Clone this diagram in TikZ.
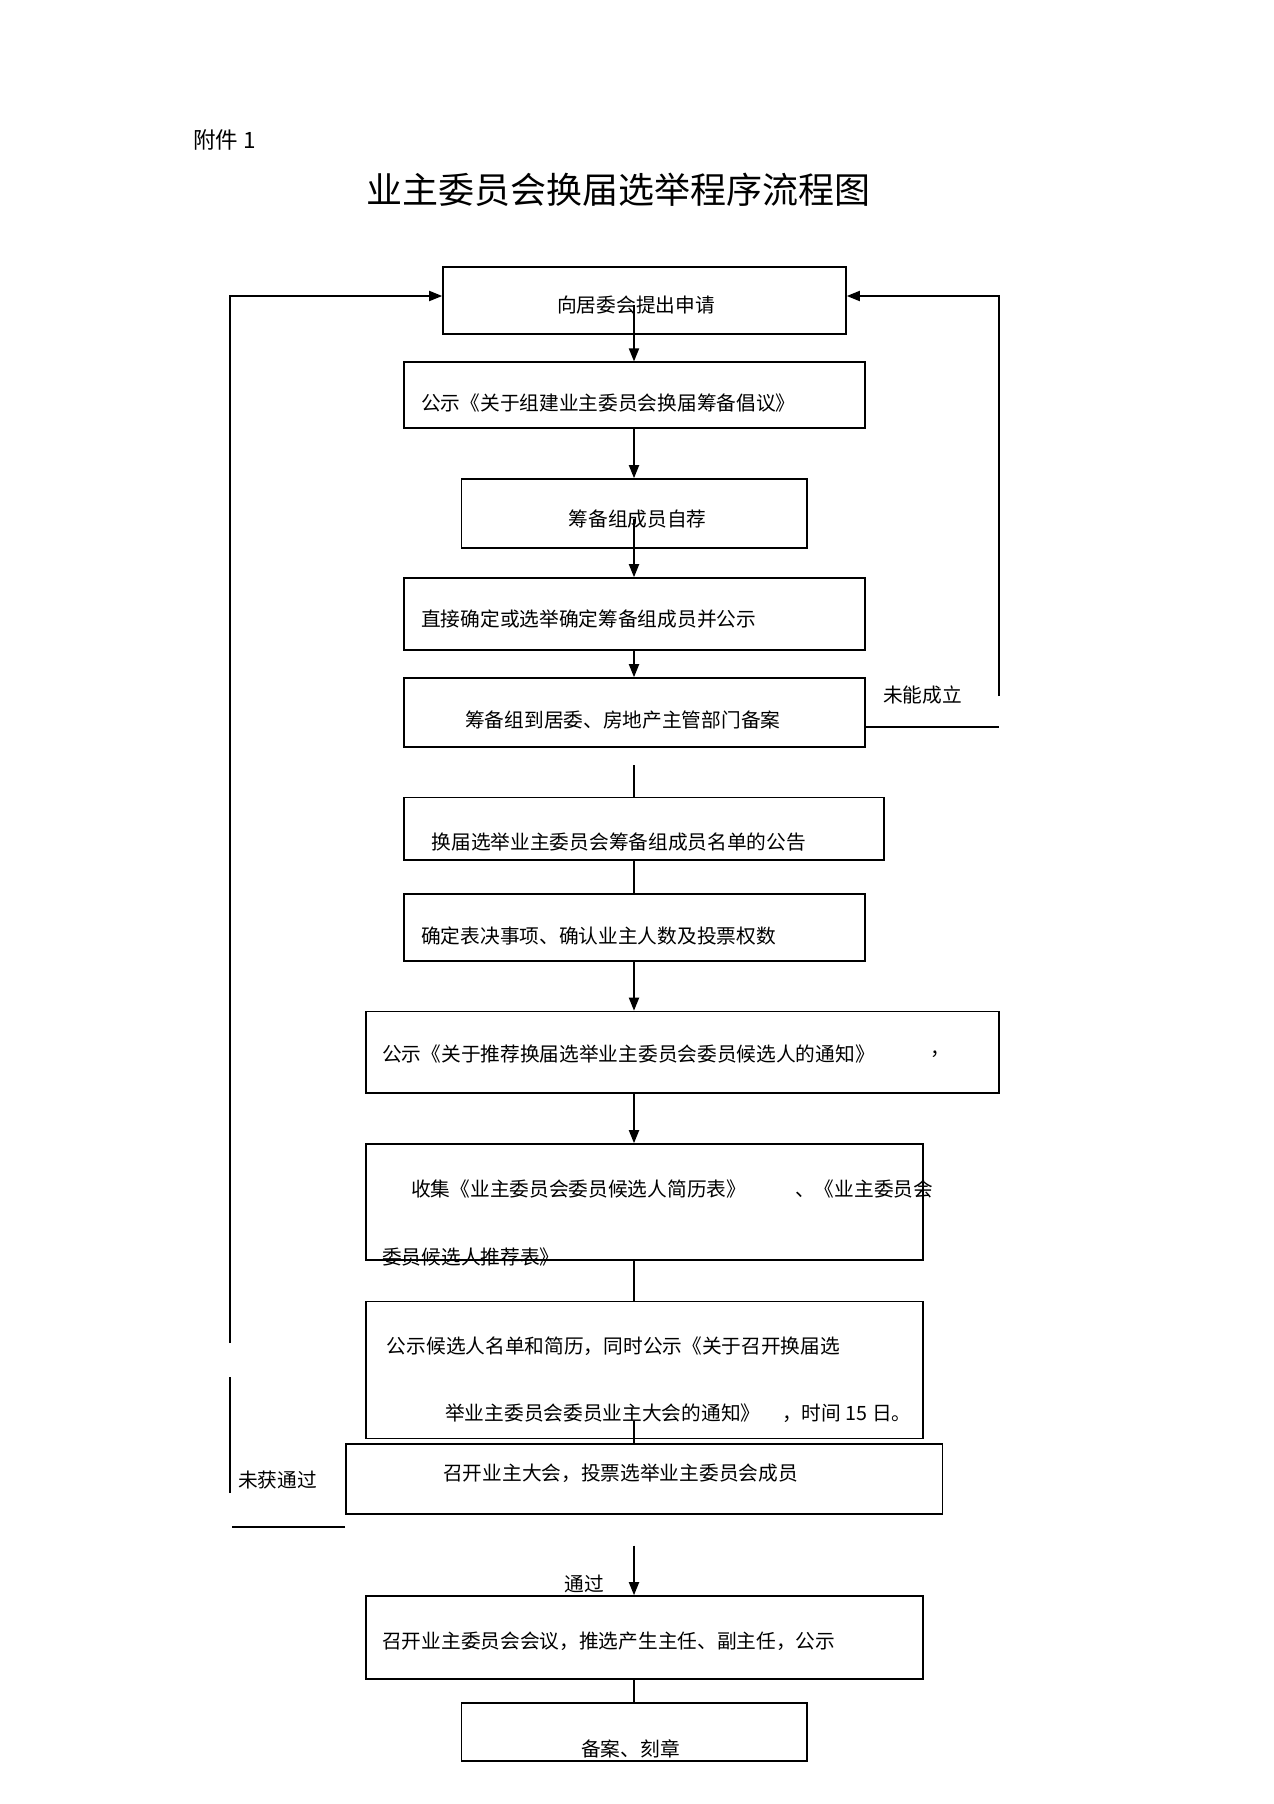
\documentclass[tikz,border=0pt]{standalone}
\usepackage{fontspec}
\setmainfont{Noto Sans CJK SC}
\usetikzlibrary{arrows.meta}
\tikzset{
  box/.style={draw, line width=1.6pt, inner sep=0pt, rectangle},
  txt/.style={inner sep=0pt, anchor=west, font=\fontsize{19.7}{19.7}\selectfont},
  arr/.style={line width=1.8pt, -{Triangle[length=13pt,width=10pt]}},
  ln/.style={line width=1.8pt},
  loop/.style={line width=1.6pt}
}
\begin{document}
\begin{tikzpicture}[x=1pt,y=-1pt]
\useasboundingbox (0,0) rectangle (1274,1804);
% header
\node[txt, font=\fontsize{22.5}{22.5}\selectfont] (att) at (193,140) {附件 1};
\node[inner sep=0pt, font=\fontsize{36}{36}\selectfont] (title) at (618,190) {业主委员会换届选举程序流程图};
% boxes
\node[box, minimum width=403pt, minimum height=67pt] (b1) at (644.5,300.5) {};
\node[box, minimum width=461pt, minimum height=65.5pt] (b2) at (634.5,395) {};
\node[box, minimum width=345.5pt, minimum height=69pt] (b3) at (634.25,513.5) {};
\node[box, minimum width=461pt, minimum height=72pt] (b4) at (634.5,614) {};
\node[box, minimum width=461pt, minimum height=69pt] (b5) at (634.5,712.5) {};
\node[box, minimum width=480pt, minimum height=62.5pt] (b6) at (644,828.75) {};
\node[box, minimum width=461pt, minimum height=67pt] (b7) at (634.5,927.5) {};
\node[box, minimum width=633pt, minimum height=81.5pt] (b8) at (682.5,1052.25) {};
\node[box, minimum width=557pt, minimum height=116pt] (b9) at (644.5,1202) {};
\node[box, minimum width=557pt, minimum height=137pt] (b10) at (644.5,1370) {};
\node[box, minimum width=596.5pt, minimum height=70pt] (b11) at (644.25,1479) {};
\node[box, minimum width=557pt, minimum height=83pt] (b12) at (644.5,1637.5) {};
\node[box, minimum width=345.5pt, minimum height=58pt] (b13) at (634.25,1732) {};
% texts
\node[txt] (t1) at (557,305) {向居委会提出申请};
\node[txt] (t2) at (421,403) {公示《关于组建业主委员会换届筹备倡议》};
\node[txt] (t3) at (568.5,519) {筹备组成员自荐};
\node[txt] (t4) at (421,619) {直接确定或选举确定筹备组成员并公示};
\node[txt] (t5) at (465,720) {筹备组到居委、房地产主管部门备案};
\node[txt] (t6) at (431.5,842) {换届选举业主委员会筹备组成员名单的公告};
\node[txt] (t7) at (421,935.6) {确定表决事项、确认业主人数及投票权数};
\node[txt] (t8) at (382,1054) {公示《关于推荐换届选举业主委员会委员候选人的通知》};
\node[txt] (t8b) at (930,1054) {，};
\node[txt] (t9a) at (411,1189) {收集《业主委员会委员候选人简历表》};
\node[txt] (t9b) at (795,1189) {、《业主委员会};
\node[txt] (t9c) at (382,1257) {委员候选人推荐表》};
\node[txt] (t10a) at (386.7,1346.5) {公示候选人名单和简历，同时公示《关于召开换届选};
\node[txt] (t10b) at (445,1413) {举业主委员会委员业主大会的通知》};
\node[txt] (t10c) at (782,1413) {，时间 15 日。};
\node[txt] (t11) at (443,1473) {召开业主大会，投票选举业主委员会成员};
\node[txt] (t12) at (382,1641) {召开业主委员会会议，推选产生主任、副主任，公示};
\node[txt] (t13) at (581,1749) {备案、刻章};
% labels
\node[txt] (lf) at (883,695) {未能成立};
\node[txt] (lw) at (238,1480) {未获通过};
\node[inner sep=0pt, font=\fontsize{19.7}{19.7}\selectfont] (lp) at (584.6,1583.5) {通过};
% spine connectors
\coordinate (spine) at (634,0);
\coordinate (c56) at (634,765);
\coordinate (c1011) at (634,1421);
\coordinate (c1112) at (634,1545.5);
\draw[arr] (spine |- t1.center) -- (spine |- b2.north);
\draw[arr] (spine |- b2.south) -- (spine |- b3.north);
\draw[arr] (spine |- t3.center) -- (spine |- b4.north);
\draw[arr] (spine |- b4.south) -- (spine |- b5.north);
\draw[ln] (c56) -- (spine |- b6.north);
\draw[ln] (spine |- b6.south) -- (spine |- b7.north);
\draw[arr] (spine |- b7.south) -- (spine |- b8.north);
\draw[arr] (spine |- b8.south) -- (spine |- b9.north);
\draw[ln] (spine |- b9.south) -- (spine |- b10.north);
\draw[ln] (c1011) -- (spine |- b11.north);
\draw[arr] (c1112) -- (spine |- b12.north);
\draw[ln] (spine |- b12.south) -- (spine |- b13.north);
% right loop
\coordinate (r1) at (999,727);
\coordinate (r2) at (999,696);
\coordinate (r3) at (999,296);
\draw[loop] (b5.east |- r1) -- (r1);
\draw[arr] (r2) -- (r3) -- (b1.east |- r3);
% left loop
\coordinate (l0) at (232,1527);
\coordinate (l1) at (230,1493);
\coordinate (l2) at (230,1377);
\coordinate (l3) at (230,1343);
\coordinate (l4) at (230,296);
\draw[loop] (b11.west |- l0) -- (l0);
\draw[loop] (l1) -- (l2);
\draw[arr] (l3) -- (l4) -- (b1.west |- l4);
\end{tikzpicture}
\end{document}
